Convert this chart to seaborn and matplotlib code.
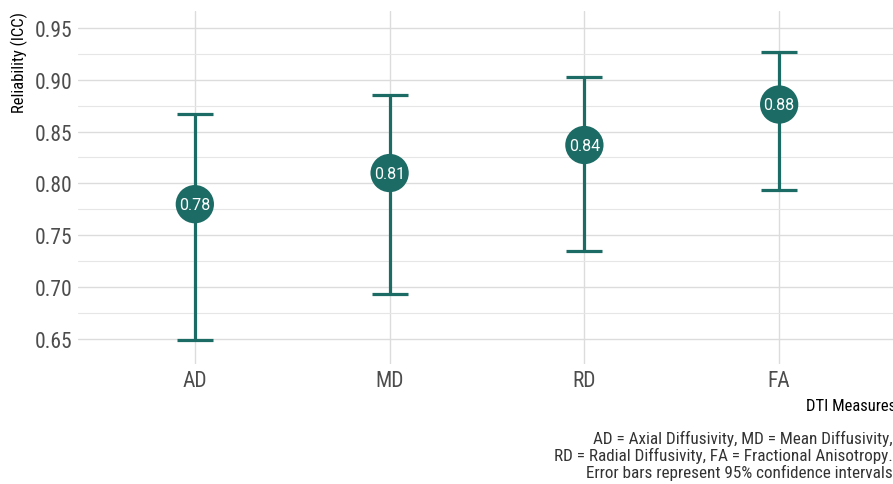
import pandas as pd
import matplotlib.pyplot as plt
import seaborn as sns
from matplotlib.ticker import MultipleLocator

measures = ["AD", "MD", "RD", "FA"]
icc = [0.780, 0.810, 0.837, 0.876]
ci_lower = [0.649, 0.693, 0.735, 0.794]
ci_upper = [0.867, 0.885, 0.903, 0.927]

caption = ("AD = Axial Diffusivity, MD = Mean Diffusivity,\n"
           "RD = Radial Diffusivity, FA = Fractional Anisotropy.\n"
           "Error bars represent 95% confidence intervals")

TEAL = "#1c6b65"

sns.set_theme(style="whitegrid")
plt.rcParams["font.family"] = ["Roboto Condensed", "Roboto", "DejaVu Sans"]

df = pd.DataFrame({"measure": measures, "icc": icc,
                   "lower": ci_lower, "upper": ci_upper})

fig = plt.figure(figsize=(8.93, 4.85), dpi=100)
ax = fig.add_axes([0.0873, 0.2474, 0.9161, 0.7276])

# error bars first so the points sit on top
pos = range(len(df))
ax.errorbar(pos, df["icc"],
            yerr=[df["icc"] - df["lower"], df["upper"] - df["icc"]],
            fmt="none", ecolor=TEAL, elinewidth=2.3, capsize=13,
            capthick=2.3, zorder=2)

sns.scatterplot(data=df, x="measure", y="icc", ax=ax, s=760,
                color=TEAL, edgecolor="none", zorder=3, legend=False)

for i, row in df.iterrows():
    ax.text(i, row["icc"], f"{row['icc']:.2f}", color="white",
            ha="center", va="center", fontsize=11.5, family="Roboto",
            zorder=4)

ax.set_xlim(-0.6, len(measures) - 0.4)
ax.set_ylim(0.626, 0.966)
ax.yaxis.set_major_locator(MultipleLocator(0.05))
ax.yaxis.set_minor_locator(MultipleLocator(0.025))
ax.yaxis.set_major_formatter(lambda v, p: f"{v:.2f}")

ax.grid(which="major", color="#dcdcdc", linewidth=1.0)
ax.grid(which="minor", axis="y", color="#e6e6e6", linewidth=0.8)
for s in ax.spines.values():
    s.set_visible(False)
ax.tick_params(axis="both", which="both", length=0, labelsize=15.5,
               labelcolor="#4d4d4d", pad=4)

ax.set_xlabel("DTI Measures", loc="right", fontsize=12, color="black",
              labelpad=5)
ax.set_ylabel("Reliability (ICC)", loc="top", fontsize=12, color="black",
              labelpad=5)

fig.text(1.0, 0.008, caption, ha="right", va="bottom", fontsize=12.3,
         color="#333333", linespacing=1.08)

fig.savefig("out.png", dpi=100)
